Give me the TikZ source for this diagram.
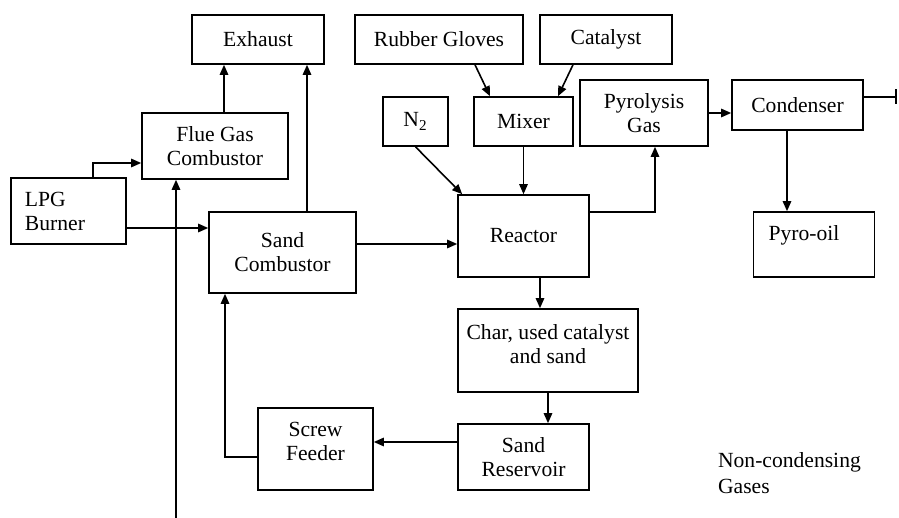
\documentclass[tikz,border=0pt]{standalone}
\usepackage{fontspec}
\setmainfont{Liberation Serif}
\usetikzlibrary{arrows.meta}

\begin{document}
\begin{tikzpicture}[
		x=0.5pt, y=-0.5pt,
		% Box style for the process units
		box/.style={draw=black, line width=0.8pt, rectangle, inner sep=0pt, align=center,
			font=\fontsize{10.8}{12}\selectfont},
		% Style for the flow lines
		arr/.style={line width=0.8pt, color=black, -{Triangle[length=5pt,width=4.2pt]}},
		line/.style={line width=0.8pt, color=black}
	]

	\useasboundingbox (0,0) rectangle (899,518);

	% =================================
	% TOP ROW
	% =================================
	\node[box, minimum width=66pt, minimum height=24.5pt] (exhaust) at (258,39.5) {Exhaust};
	\node[box, minimum width=84pt, minimum height=24.5pt] (gloves) at (439,39.5) {Rubber Gloves};
	\node[box, minimum width=66pt, minimum height=24.5pt] (catalyst) at (606,39.5) {Catalyst};

	% =================================
	% SECOND ROW
	% =================================
	\node[box, minimum width=73pt, minimum height=33pt] (flue) at (215,146) {Flue Gas\\Combustor};
	\node[box, minimum width=32.5pt, minimum height=24.5pt] (n2) at (415.5,121.5) {N\textsubscript{2}};
	\node[box, minimum width=49.5pt, minimum height=24.5pt] (mixer) at (523.5,121.5) {Mixer};
	\node[box, minimum width=64pt, minimum height=33pt] (pyrogas) at (644,113) {Pyrolysis\\Gas};
	\node[box, minimum width=65.5pt, minimum height=25pt] (condenser) at (797.5,105) {Condenser};

	% =================================
	% MIDDLE ROW
	% =================================
	\node[box, align=left, inner xsep=7pt, text width=43.5pt, minimum height=33pt] (lpg) at (68.5,211) {LPG\\Burner};
	\node[box, minimum width=73.5pt, minimum height=40.5pt] (sandc) at (282.5,252.5) {Sand\\Combustor};
	\node[box, minimum width=65.5pt, minimum height=41pt] (reactor) at (523.5,236) {Reactor};
	\node[box, align=left, inner xsep=7.5pt, text width=45.5pt, minimum height=32.5pt] (pyrooil) at (814,244.5) {Pyro-oil\\[-4pt]\strut};

	% =================================
	% BOTTOM ROWS
	% =================================
	\node[box, minimum width=90pt, minimum height=41.5pt] (char) at (548,350.5) {Char, used catalyst\\and sand\\[-6pt]};
	\node[box, minimum width=65.5pt, minimum height=33pt] (reservoir) at (523.5,457) {Sand\\Reservoir};
	\node[box, minimum width=57.5pt, minimum height=41pt] (screw) at (315.5,449) {Screw\\Feeder\\[-4.5pt]};
	\node[align=left, anchor=west, font=\fontsize{10.8}{13}\selectfont] (gases) at (711,473) {Non-condensing\\Gases};

	% free ends of the open lines
	\coordinate (feedin) at (176,518);
	\coordinate (gasout) at (897,97);

	% =================================
	% CONNECTIONS
	% =================================

	% burner and combustors
	\draw[arr] ([xshift=12.25pt]lpg.north) |- ([yshift=-8.5pt]flue.west);
	\draw[arr] ([yshift=-8.5pt]lpg.east) coordinate (lpgout) -- (lpgout -| sandc.west);
	\draw[arr] (feedin) -- (feedin |- flue.south);
	\draw[arr] ([xshift=4.5pt]flue.north) coordinate (flueout) -- (flueout |- exhaust.south);
	\draw[arr] ([xshift=12.25pt]sandc.north) coordinate (sandup) -- (sandup |- exhaust.south);
	\draw[arr] ([yshift=4.25pt]sandc.east) coordinate (sandout) -- (sandout -| reactor.west);

	% feeds into the reactor
	\draw[arr] ([xshift=18pt]gloves.south) -- ([xshift=-16.75pt]mixer.north);
	\draw[arr] ([xshift=-16.5pt]catalyst.south) -- ([xshift=17.25pt]mixer.north);
	\draw[arr] (n2.south) -- ([xshift=2.5pt]reactor.north west);
	\draw[arr] (mixer.south) -- (reactor.north);

	% products
	\draw[arr] ([yshift=12pt]reactor.east) -| ([xshift=5.5pt]pyrogas.south);
	\draw[arr] (pyrogas.east) -- (pyrogas.east -| condenser.west);
	\draw[line, -{Bar[width=7.5pt]}] ([yshift=4pt]condenser.east) -- (gasout);
	\draw[arr] ([xshift=-5.25pt]condenser.south) coordinate (oilout) -- (oilout |- pyrooil.north);

	% solids loop
	\draw[arr] ([xshift=8.25pt]reactor.south) coordinate (charin) -- (charin |- char.north);
	\draw[arr] (char.south) -- (char.south |- reservoir.north);
	\draw[arr] ([yshift=7.5pt]reservoir.west) coordinate (resout) -- (resout -| screw.east);
	\draw[arr] ([yshift=-4pt]screw.west) -| ([xshift=-28.75pt]sandc.south);

\end{tikzpicture}
\end{document}
